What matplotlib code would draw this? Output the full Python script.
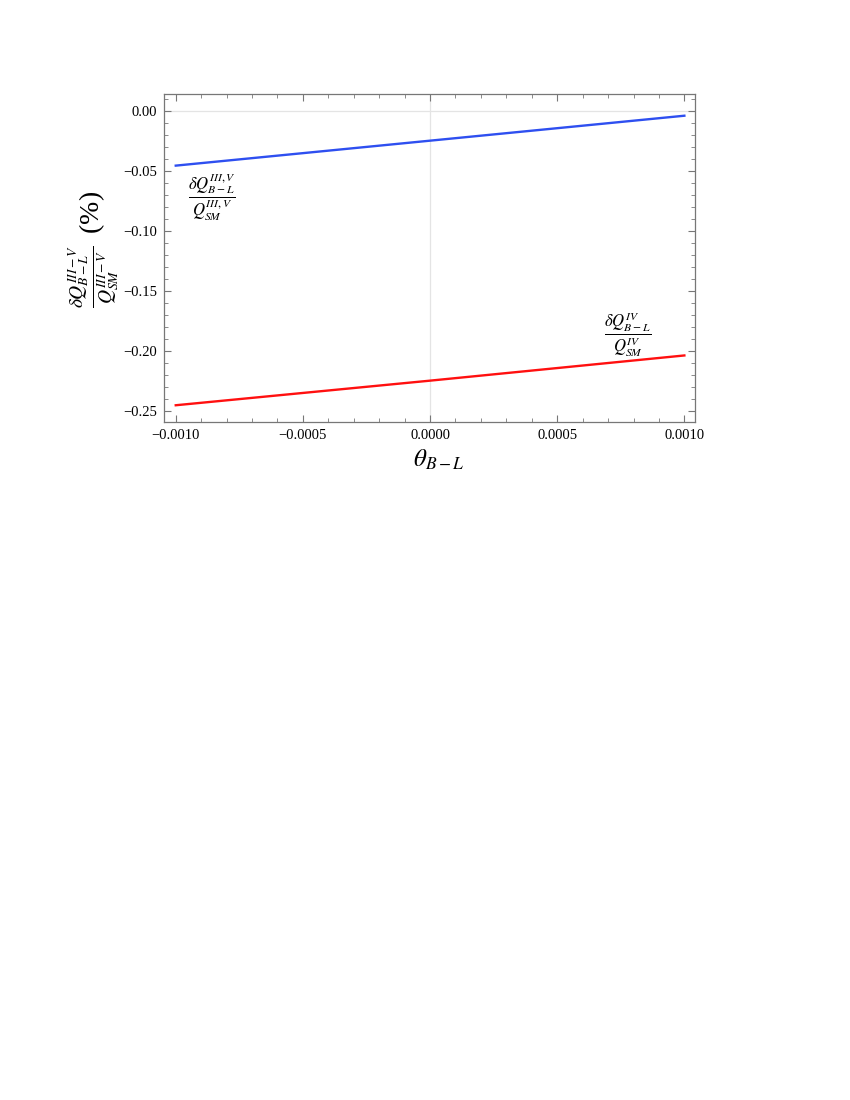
import numpy as np
import matplotlib
import matplotlib.pyplot as plt
from matplotlib.ticker import MultipleLocator, FuncFormatter

matplotlib.use('Agg')

plt.rcParams['font.family'] = ['Liberation Serif', 'DejaVu Serif']
plt.rcParams['mathtext.fontset'] = 'stix'

# endpoints / midpoint
theta = [-0.001, 0.0, 0.001]
ratio_iii_v = [-0.0458, -0.0250, -0.0042]
ratio_iv = [-0.2455, -0.2250, -0.2040]

x_ticks = [-0.001, -0.0005, 0.0, 0.0005, 0.001]
y_ticks = [0.0, -0.05, -0.10, -0.15, -0.20, -0.25]

fig = plt.figure(figsize=(8.5, 11), dpi=100)
ax = fig.add_axes([0.1933, 0.6161, 0.6247, 0.2982])

ax.axhline(0, color='#e4e4e4', linewidth=0.9, zorder=0)
ax.axvline(0, color='#e4e4e4', linewidth=0.9, zorder=0)

ax.plot(theta, ratio_iii_v, color='#2e4ff0', linewidth=1.7)
ax.plot(theta, ratio_iv, color='#ff1010', linewidth=1.7)

ax.set_xlim(-0.001045, 0.001043)
ax.set_ylim(-0.2597, 0.01367)
ax.set_xticks(x_ticks)
ax.set_yticks(y_ticks)
ax.xaxis.set_minor_locator(MultipleLocator(0.0001))
ax.yaxis.set_minor_locator(MultipleLocator(0.01))
ax.xaxis.set_major_formatter(FuncFormatter(lambda v, p: f'{v:.4f}'.replace('-', '\u2212')))
ax.yaxis.set_major_formatter(FuncFormatter(lambda v, p: f'{v:.2f}'.replace('-', '\u2212')))

ax.tick_params(which='both', direction='in', top=True, right=True,
               color='#777777', labelsize=10.5, labelcolor='black', pad=5)
ax.tick_params(which='major', length=5, width=0.8)
ax.tick_params(which='minor', length=2.8, width=0.6)
for sp in ax.spines.values():
    sp.set_color('#777777')
    sp.set_linewidth(0.9)

ax.set_xlabel(r'$\theta_{B-L}$', fontsize=18, va='center')
ax.xaxis.set_label_coords(0.517, -0.115)
ax.set_ylabel(r'$\frac{\delta Q^{III-V}_{B-L}}{Q^{III-V}_{SM}}$ $\,$(%)', fontsize=20, va='center')
ax.yaxis.set_label_coords(-0.1324, 0.528)

ax.text(-0.000858, -0.0720, r'$\dfrac{\delta Q^{III,V}_{B-L}}{Q^{III,V}_{SM}}$',
        fontsize=12, ha='center', va='center')
ax.text(0.000777, -0.1870, r'$\dfrac{\delta Q^{IV}_{B-L}}{Q^{IV}_{SM}}$',
        fontsize=12, ha='center', va='center')

plt.savefig('out.png', dpi=100)
plt.close(fig)
